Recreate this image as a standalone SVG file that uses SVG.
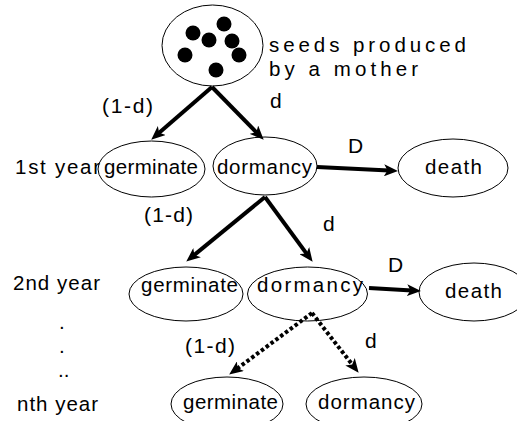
<svg xmlns="http://www.w3.org/2000/svg" width="517" height="421" viewBox="0 0 517 421">
<style>
text{font-family:"Liberation Sans",Arial,sans-serif;fill:#000}
.n{font-size:20.5px}
.lbl{font-size:21px}
.node ellipse{fill:none;stroke:#000;stroke-width:1}
.c{stroke:#000;stroke-width:4;fill:none}
.dot{stroke-dasharray:3.5 2.5}
</style>
<defs>
<marker id="ah" viewBox="0 0 14 12" refX="5" refY="6" markerWidth="14" markerHeight="12" markerUnits="userSpaceOnUse" orient="auto">
<path d="M0,0 L14,6 L0,12 L3.5,6 z" fill="#000"/>
</marker>
</defs>
<rect width="517" height="421" fill="#fff"/>
<g id="seeds" class="node">
<ellipse cx="212.5" cy="45.5" rx="50.5" ry="40.5"/>
<circle cx="193" cy="33" r="7.5"/>
<circle cx="209" cy="40" r="7.5"/>
<circle cx="224" cy="24" r="7.5"/>
<circle cx="232" cy="41" r="7.5"/>
<circle cx="185" cy="55" r="7.5"/>
<circle cx="239" cy="55" r="7.5"/>
<circle cx="216" cy="70" r="7.5"/>
<text class="n" x="269" y="52" textLength="197" lengthAdjust="spacing">seeds produced</text>
<text class="n" x="269" y="76" textLength="149" lengthAdjust="spacing">by a mother</text>
</g>
<g id="germinate1" class="node">
<ellipse cx="151.5" cy="169" rx="53.5" ry="28"/>
<text class="n" x="104" y="174" textLength="94" lengthAdjust="spacing">germinate</text>
</g>
<g id="dormancy1" class="node">
<ellipse cx="265" cy="166" rx="52" ry="29"/>
<text class="n" x="217" y="174" textLength="95" lengthAdjust="spacing">dormancy</text>
</g>
<g id="death1" class="node">
<ellipse cx="453" cy="168" rx="55" ry="29"/>
<text class="n" x="425" y="174" textLength="57" lengthAdjust="spacing">death</text>
</g>
<g id="germinate2" class="node">
<ellipse cx="186" cy="294" rx="57" ry="27"/>
<text class="n" x="141" y="292" textLength="97" lengthAdjust="spacing">germinate</text>
</g>
<g id="dormancy2" class="node">
<ellipse cx="307.5" cy="294" rx="60" ry="27"/>
<text class="n" x="257" y="292" textLength="106" lengthAdjust="spacing">dormancy</text>
</g>
<g id="death2" class="node">
<ellipse cx="474" cy="292" rx="55" ry="29"/>
<text class="n" x="445" y="298" textLength="57" lengthAdjust="spacing">death</text>
</g>
<g id="germinate3" class="node">
<ellipse cx="227" cy="404" rx="56" ry="27"/>
<text class="n" x="183" y="409" textLength="95" lengthAdjust="spacing">germinate</text>
</g>
<g id="dormancy3" class="node">
<ellipse cx="364" cy="404" rx="58" ry="27"/>
<text class="n" x="318" y="409" textLength="97" lengthAdjust="spacing">dormancy</text>
</g>
<g id="year-labels">
<text class="n" x="15" y="174" textLength="85" lengthAdjust="spacing">1st year</text>
<text class="n" x="13" y="290" textLength="87" lengthAdjust="spacing">2nd year</text>
<text class="n" x="59" y="329">.</text>
<text class="n" x="59" y="353">.</text>
<text class="n" x="58" y="377">..</text>
<text class="n" x="17" y="411" textLength="81" lengthAdjust="spacing">nth year</text>
</g>
<g id="connectors">
<line class="c" x1="212" y1="87" x2="158" y2="133.8" marker-end="url(#ah)"/>
<line class="c" x1="212" y1="87" x2="257.4" y2="133.3" marker-end="url(#ah)"/>
<line class="c" x1="265" y1="197" x2="193.2" y2="255.9" marker-end="url(#ah)"/>
<line class="c" x1="265" y1="197" x2="307.3" y2="254.6" marker-end="url(#ah)"/>
<line class="c" x1="317" y1="167" x2="389" y2="170.6" marker-end="url(#ah)"/>
<line class="c" x1="369" y1="288" x2="412" y2="290.5" marker-end="url(#ah)"/>
<line class="c dot" x1="312" y1="313" x2="236.4" y2="369.2" marker-end="url(#ah)"/>
<line class="c dot" x1="312" y1="313" x2="353.1" y2="365.7" marker-end="url(#ah)"/>
<text class="lbl" x="102" y="113" textLength="51" lengthAdjust="spacing">(1-d)</text>
<text class="lbl" x="270" y="108">d</text>
<text class="lbl" x="348" y="153">D</text>
<text class="lbl" x="144" y="222" textLength="49" lengthAdjust="spacing">(1-d)</text>
<text class="lbl" x="323" y="231">d</text>
<text class="lbl" x="388" y="272">D</text>
<text class="lbl" x="185" y="353" textLength="50" lengthAdjust="spacing">(1-d)</text>
<text class="lbl" x="365" y="348">d</text>
</g>
</svg>
